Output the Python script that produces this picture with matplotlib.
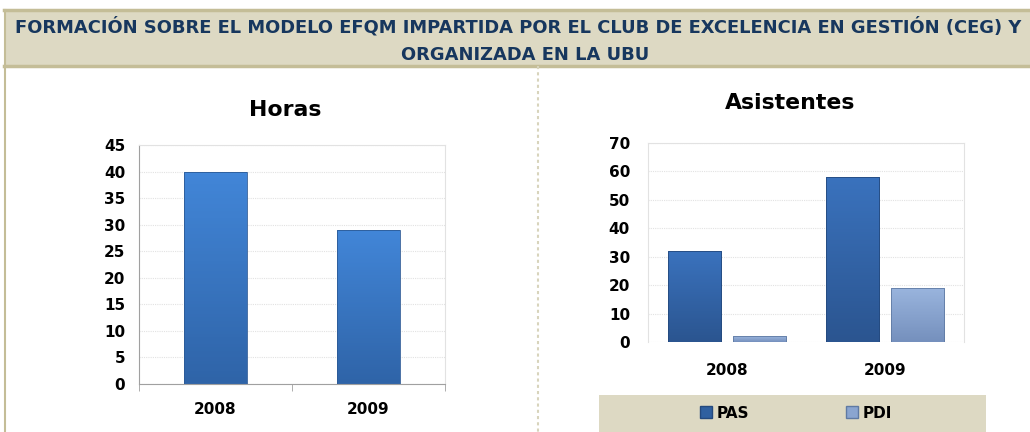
import numpy as np
import matplotlib.pyplot as plt
from matplotlib.patches import Rectangle
from matplotlib.lines import Line2D
from matplotlib.colors import LinearSegmentedColormap

# data
years = ["2008", "2009"]
horas = [40, 29]
pas = [32, 58]
pdi = [2, 19]

header_lines = ["FORMACIÓN SOBRE EL MODELO EFQM IMPARTIDA POR EL CLUB DE EXCELENCIA EN GESTIÓN (CEG) Y",
                "ORGANIZADA EN LA UBU"]

plt.rcParams['font.family'] = ['DejaVu Sans']

W, H = 1030, 432
fig = plt.figure(figsize=(W / 100, H / 100), dpi=100)
fig.patch.set_facecolor('white')

def fx(px):
    return px / W

def fy(py):
    return 1 - py / H

tan = '#c4bd97'
beige = '#ddd9c3'
navy = '#17375e'

# header band
fig.patches.append(Rectangle((fx(4), fy(66)), fx(1030), 56 / H, transform=fig.transFigure,
                             facecolor=beige, edgecolor='none', zorder=0))
fig.add_artist(Line2D([fx(4), 1], [fy(10), fy(10)], color=tan, lw=2.5))
fig.add_artist(Line2D([fx(4), 1], [fy(66), fy(66)], color=tan, lw=2.5))
fig.add_artist(Line2D([fx(5), fx(5)], [fy(10), 0], color=tan, lw=1.5))
fig.add_artist(Line2D([fx(538), fx(538)], [fy(66), 0], color='#d8d4bc', lw=1.5, ls=(0, (1.5, 1.5))))

fig.text(fx(518), fy(27), header_lines[0], ha='center', va='center',
         fontsize=12.85, fontweight='bold', color=navy)
fig.text(fx(525), fy(55), header_lines[1], ha='center', va='center',
         fontsize=12.85, fontweight='bold', color=navy)


def gradient_bars(ax, bars, top, bottom):
    cmap = LinearSegmentedColormap.from_list('g', [bottom, top])
    grad = np.linspace(0, 1, 64).reshape(-1, 1)
    for b in bars:
        x0, y0 = b.get_x(), b.get_y()
        w, h = b.get_width(), b.get_height()
        im = ax.imshow(grad, cmap=cmap, origin='lower', aspect='auto',
                       extent=(x0, x0 + w, y0, y0 + h), zorder=2)
        im.set_clip_path(b)
        b.set_facecolor('none')
        b.set_zorder(3)


def style_axes(ax, ymax, step, pad):
    ax.set_ylim(0, ymax)
    ax.set_yticks(np.arange(0, ymax + 1, step))
    ax.grid(axis='y', color='#e2e2e2', lw=0.8, ls=(0, (1, 1)))
    ax.set_axisbelow(True)
    for s in ['top', 'right']:
        ax.spines[s].set_color('#e2e2e2')
    ax.tick_params(axis='y', length=0, pad=pad, labelsize=11)
    ax.tick_params(axis='x', labelsize=11)
    for lab in ax.get_yticklabels() + ax.get_xticklabels():
        lab.set_fontweight('bold')


x = np.arange(len(years))

# left chart: Horas
ax1 = fig.add_axes([fx(139), fy(384), fx(445 - 139), (384 - 145) / H])
b1 = ax1.bar(x, horas, width=0.41, edgecolor='#2c5a96', lw=0.6)
gradient_bars(ax1, b1, '#4286d8', '#2f64a8')
ax1.set_xlim(-0.5, 1.5)
ax1.set_xticks(x)
ax1.set_xticklabels(years)
style_axes(ax1, 45, 5, 10)
ax1.set_xticks([-0.5, 0.5, 1.5], minor=True)
ax1.tick_params(axis='x', which='major', length=0, pad=13)
ax1.tick_params(axis='x', which='minor', length=5, color='#a0a0a0', direction='out')
ax1.spines['left'].set_color('#a0a0a0')
ax1.spines['bottom'].set_color('#a0a0a0')
fig.text(fx(285), fy(110), 'Horas', ha='center', va='center', fontsize=15.8, fontweight='bold')

# right chart: Asistentes
ax2 = fig.add_axes([fx(648), fy(342), fx(964 - 648), (342 - 143) / H])
b2 = ax2.bar(x - 0.205, pas, width=0.34, edgecolor='#24497d', lw=0.6, label='PAS')
b3 = ax2.bar(x + 0.205, pdi, width=0.34, edgecolor='#5f7aa3', lw=0.6, label='PDI')
gradient_bars(ax2, b2, '#3a72bd', '#2b5590')
gradient_bars(ax2, b3, '#9ab5de', '#7590bd')
ax2.set_xlim(-0.5, 1.5)
ax2.set_xticks(x)
ax2.set_xticklabels(years)
style_axes(ax2, 70, 10, 13)
ax2.tick_params(axis='x', length=0, pad=15)
ax2.spines['left'].set_color('#e2e2e2')
ax2.spines['bottom'].set_visible(False)
fig.text(fx(790), fy(103), 'Asistentes', ha='center', va='center', fontsize=15.8, fontweight='bold')

# legend box
fig.patches.append(Rectangle((fx(599), 0), fx(986 - 599), (432 - 395) / H,
                             transform=fig.transFigure, facecolor=beige,
                             edgecolor='none', zorder=0))
leg_items = [('PAS', '#2f60a0', '#24497d', 700), ('PDI', '#8aa5d0', '#5f7aa3', 846)]
for name, fc, ec, xpos in leg_items:
    h = Rectangle((0, 0), 1, 1, facecolor=fc, edgecolor=ec)
    lg = fig.legend([h], [name], loc='center left', bbox_to_anchor=(fx(xpos), fy(413)),
                    frameon=False, handlelength=0.8, handleheight=0.8, handletextpad=0.3,
                    borderpad=0, borderaxespad=0, prop={'weight': 'bold', 'size': 11})

fig.savefig('out.png', dpi=100)
